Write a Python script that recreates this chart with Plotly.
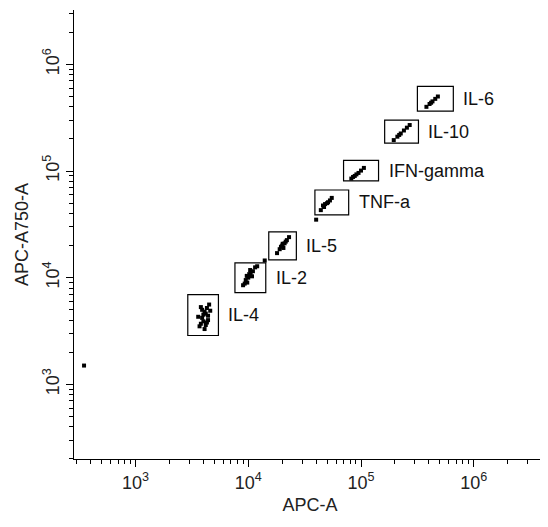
import math
import plotly.graph_objects as go

labels = ["IL-4", "IL-2", "IL-5", "TNF-a", "IFN-gamma", "IL-10", "IL-6"]
gate_x0 = [2910, 7620, 15200, 39000, 70000, 162000, 316000]
gate_x1 = [5440, 14300, 26700, 77700, 143000, 323000, 658000]
gate_y0 = [2870, 7250, 14700, 38800, 80700, 183000, 364000]
gate_y1 = [6930, 13800, 26900, 66400, 126000, 300000, 622000]

cluster_x = [
    [3700, 3900, 4100, 4300, 4000, 4200, 3800, 4500, 4400, 4100, 3900, 4600, 4300, 3600, 4000, 4200, 3800, 4400],
    [9000, 9500, 10000, 10500, 11000, 11500, 9800, 10200, 12000, 9300, 10800, 10400, 9700],
    [18000, 19000, 20000, 21000, 22000, 20500, 19500, 21500, 23000, 20200],
    [44000, 47000, 50000, 53000, 55000, 48000, 51000, 46000],
    [82000, 88000, 95000, 100000, 106000, 91000, 85000],
    [195000, 210000, 225000, 240000, 255000, 270000, 218000],
    [380000, 405000, 430000, 455000, 480000, 418000],
]
cluster_y = [
    [3500, 4200, 4800, 5200, 3900, 4600, 3700, 5600, 4400, 3300, 5000, 4900, 3800, 4300, 4500, 3600, 5300, 4000],
    [8500, 9500, 10000, 11000, 11500, 12500, 9000, 10800, 12800, 8800, 10300, 11800, 10400],
    [17000, 18500, 20000, 21000, 22500, 19000, 19500, 21800, 24000, 20800],
    [43000, 46000, 50000, 53000, 56000, 49000, 51000, 47500],
    [85000, 90000, 96000, 101000, 107000, 93000, 88000],
    [195000, 210000, 225000, 240000, 255000, 270000, 218000],
    [400000, 425000, 450000, 475000, 500000, 437000],
]
stray_x = [350, 40000, 14000]
stray_y = [1500, 35000, 14500]

fig = go.Figure()
xs = [v for c in cluster_x for v in c] + stray_x
ys = [v for c in cluster_y for v in c] + stray_y
fig.add_trace(go.Scatter(x=xs, y=ys, mode="markers",
                         marker=dict(color="black", size=4, symbol="square"),
                         showlegend=False))
for i, lab in enumerate(labels):
    fig.add_shape(type="rect", x0=gate_x0[i], x1=gate_x1[i], y0=gate_y0[i], y1=gate_y1[i],
                  line=dict(color="black", width=1.2))
    ymid = (gate_y0[i] * gate_y1[i]) ** 0.5
    fig.add_annotation(x=math.log10(gate_x1[i]), y=math.log10(ymid),
                       text=lab, showarrow=False, xanchor="left", xshift=8,
                       font=dict(size=18, color="#111"))

tv = [1e3, 1e4, 1e5, 1e6]
tt = ["10<sup>3</sup>", "10<sup>4</sup>", "10<sup>5</sup>", "10<sup>6</sup>"]
ax = dict(type="log", showgrid=False, zeroline=False, showline=True, linecolor="black",
          linewidth=1, ticks="outside", ticklen=7, tickcolor="black",
          tickvals=tv, ticktext=tt, tickfont=dict(size=18, color="#222"),
          minor=dict(ticks="outside", ticklen=4, tickcolor="black", dtick="D1"),
          mirror=False)
fig.update_xaxes(**ax, range=[2.455, 6.64], title=dict(text="APC-A", font=dict(size=18), standoff=6))
fig.update_yaxes(**ax, range=[2.30, 6.51], tickangle=-90,
                 title=dict(text="APC-A750-A", font=dict(size=18), standoff=6))
fig.update_layout(width=548, height=527, margin=dict(l=66, r=10, t=2, b=76),
                  plot_bgcolor="white", paper_bgcolor="white",
                  font=dict(family="Liberation Sans, Arial, sans-serif", color="#222"))
fig.write_html("out.html")
